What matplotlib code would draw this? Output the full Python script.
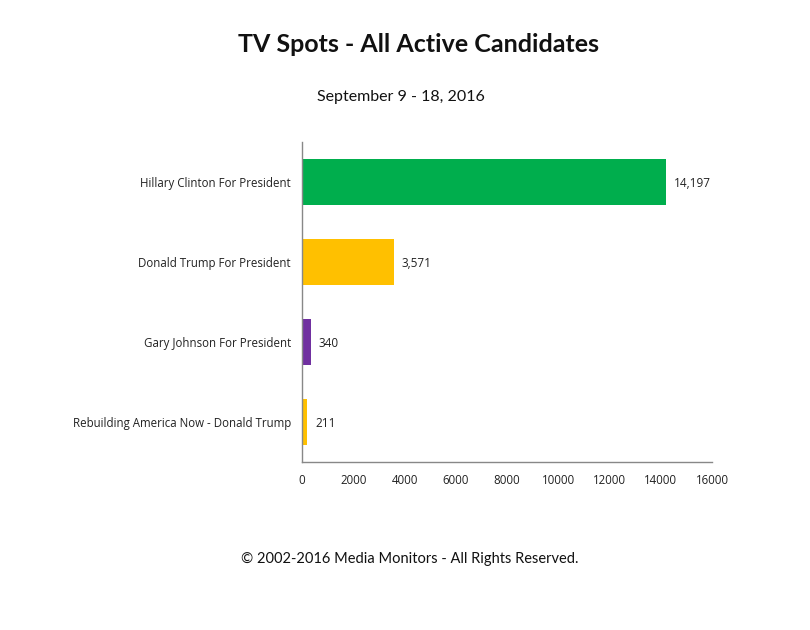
import matplotlib.pyplot as plt

categories = ['Hillary Clinton For President', 'Donald Trump For President',
              'Gary Johnson For President', 'Rebuilding America Now - Donald Trump']
spots = [14197, 3571, 340, 211]
colors = ['#00AE4D', '#FFC000', '#7030A0', '#FFC000']
xticks = [0, 2000, 4000, 6000, 8000, 10000, 12000, 14000, 16000]

fig = plt.figure(figsize=(8.1, 6.3), dpi=100)
ax = fig.add_axes([302 / 810, 1 - 462 / 630, 410 / 810, 320 / 630])

y = list(range(len(categories)))
ax.barh(y, spots, height=0.575, color=colors)
ax.set_ylim(len(categories) - 0.5, -0.5)
ax.set_xlim(0, 16000)

for yi, v in zip(y, spots):
    ax.text(v + 300, yi + 0.02, f'{v:,}', va='center', ha='left', fontsize=8.5,
            family='Open Sans', color='#222222')

ax.set_yticks(y)
ax.set_yticklabels(categories, fontsize=8.3, family='Open Sans', color='#222222')
ax.set_xticks(xticks)
ax.set_xticklabels([str(t) for t in xticks], fontsize=8.3, family='Open Sans', color='#222222')
ax.tick_params(axis='y', length=0, pad=8)
ax.tick_params(axis='x', length=0, pad=9)

for s in ['top', 'right']:
    ax.spines[s].set_visible(False)
for s in ['left', 'bottom']:
    ax.spines[s].set_color('#888888')
    ax.spines[s].set_linewidth(1)

fig.text(419 / 810, 1 - 45 / 630, 'TV Spots - All Active Candidates', ha='center', va='center',
         fontsize=18, fontweight='bold', family='Lato', color='#111111')
fig.text(401 / 810, 1 - 97 / 630, 'September 9 - 18, 2016', ha='center', va='center',
         fontsize=11.5, family='Lato', color='#111111')
fig.text(410 / 810, 1 - 559 / 630, '\u00a9 2002-2016 Media Monitors - All Rights Reserved.',
         ha='center', va='center', fontsize=10.5, family='Lato', color='#111111')

fig.savefig('out.png', dpi=100)
